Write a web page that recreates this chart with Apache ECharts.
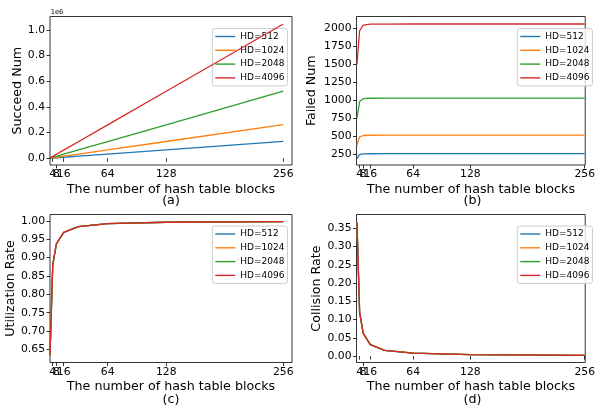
<!DOCTYPE html>
<html>
<head>
<meta charset="utf-8">
<script src="https://cdn.jsdelivr.net/npm/echarts@6/dist/echarts.min.js"></script>
<style>
  html,body{margin:0;padding:0;background:#fff;}
  #chart{width:598px;height:408px;}
</style>
</head>
<body>
<div id="chart"></div>
<script>
// x values (number of hash table blocks)
var blocks = [1, 4, 8, 16, 32, 64, 128, 256];
var hdNames = ['HD=512', 'HD=1024', 'HD=2048', 'HD=4096'];

// (a) succeed num
var succeed512 = [322, 1802, 3840, 7935, 16126, 32510, 65278, 130814];
var succeed1024 = [648, 3604, 7681, 15870, 32253, 65021, 130557, 261629];
var succeed2048 = [1298, 7209, 15362, 31740, 64506, 130042, 261114, 523258];
var succeed4096 = [2596, 14418, 30723, 63479, 129013, 260084, 522228, 1046516];

// (b) failed num
var failed512 = [190, 246, 256, 257, 258, 258, 258, 258];
var failed1024 = [376, 492, 511, 514, 515, 515, 515, 515];
var failed2048 = [750, 983, 1022, 1028, 1030, 1030, 1030, 1030];
var failed4096 = [1500, 1966, 2045, 2057, 2059, 2060, 2060, 2060];

// (c) utilization rate
var util512 = [0.634, 0.880, 0.9375, 0.9686, 0.9843, 0.9921, 0.9961, 0.9980];
var util1024 = [0.633, 0.880, 0.9376, 0.9686, 0.9843, 0.9921, 0.9961, 0.9980];
var util2048 = [0.634, 0.880, 0.9376, 0.9687, 0.9843, 0.9921, 0.9961, 0.9980];
var util4096 = [0.634, 0.880, 0.9376, 0.9686, 0.9843, 0.9921, 0.9961, 0.9980];

// (d) collision rate
var coll512 = [0.366, 0.120, 0.0625, 0.0314, 0.0157, 0.0079, 0.0039, 0.0020];
var coll1024 = [0.367, 0.120, 0.0624, 0.0314, 0.0157, 0.0079, 0.0039, 0.0020];
var coll2048 = [0.366, 0.120, 0.0624, 0.0313, 0.0157, 0.0079, 0.0039, 0.0020];
var coll4096 = [0.366, 0.120, 0.0624, 0.0314, 0.0157, 0.0079, 0.0039, 0.0020];

// tick labels ("8" sits on a second bottom axis, it would be hidden as overlapping "4")
var xTicks = [4, 16, 64, 128, 256];
var xTicksExtra = [8];
var succeedTicks = [0, 200000, 400000, 600000, 800000, 1000000];
var failedTicks = [250, 500, 750, 1000, 1250, 1500, 1750, 2000];
var utilTicks = [0.65, 0.70, 0.75, 0.80, 0.85, 0.90, 0.95, 1.00];
var collTicks = [0, 0.05, 0.10, 0.15, 0.20, 0.25, 0.30, 0.35];

var colors = ['#1f77b4', '#ff7f0e', '#2ca02c', '#d62728'];
var font = 'DejaVu Sans';

function pairs(ys){
	var d = [];
	for (var i = 0; i < blocks.length; i++) d.push([blocks[i], ys[i]]);
	return d;
}

function lineSeries(idx, sets){
	var out = [];
	for (var i = 0; i < sets.length; i++) {
		out.push({
			name: hdNames[i],
			type: 'line',
			xAxisIndex: idx,
			yAxisIndex: idx,
			data: pairs(sets[i]),
			symbol: 'none',
			color: colors[i],
			lineStyle: {width: 1.3, color: colors[i]},
			z: 2 + i
		});
	}
	return out;
}

function xAxisOf(idx, min, max, ticks, withName){
	return {
		type: 'value', gridIndex: idx, min: min, max: max, position: 'bottom', offset: 0,
		name: withName ? 'The number of hash table blocks' : '', nameLocation: 'middle', nameGap: 18,
		nameTextStyle: {fontFamily: font, fontSize: 12.7, color: '#000'},
		axisLine: {show: false},
		splitLine: {show: false},
		axisTick: {show: true, interval: 0, length: 3.5, lineStyle: {color: '#000', width: 0.8}, customValues: ticks},
		axisLabel: {fontFamily: font, fontSize: 10.8, color: '#000', margin: 4, interval: 0,
			showMinLabel: true, showMaxLabel: true, hideOverlap: false, customValues: ticks}
	};
}

function yAxisOf(idx, min, max, name, gap, ticks, fmt){
	return {
		type: 'value', gridIndex: idx, min: min, max: max,
		name: name, nameLocation: 'middle', nameGap: gap,
		nameTextStyle: {fontFamily: font, fontSize: 12.7, color: '#000'},
		axisLine: {show: false},
		splitLine: {show: false},
		axisTick: {show: true, length: 3.5, lineStyle: {color: '#000', width: 0.8}, customValues: ticks},
		axisLabel: {fontFamily: font, fontSize: 10.8, color: '#000', margin: 5, customValues: ticks, formatter: fmt,
			showMinLabel: true, showMaxLabel: true}
	};
}

function legendAt(left, top){
	var items = [];
	for (var i = 0; i < hdNames.length; i++) {
		items.push({name: hdNames[i], icon: 'rect', itemStyle: {color: colors[i]}});
	}
	return {
		data: items, orient: 'vertical', left: left, top: top,
		itemWidth: 20, itemHeight: 1.4, itemGap: 4.8, itemTextGap: 6.5,
		padding: [3.5, 3, 3.5, 3],
		backgroundColor: 'rgba(255,255,255,0.8)',
		borderColor: '#cccccc', borderWidth: 1, borderRadius: 2.5,
		textStyle: {fontFamily: font, fontSize: 9, color: '#000', lineHeight: 9},
		selectedMode: false
	};
}

function label(x, y, t, size){
	return {type: 'text', x: x, y: y, style: {text: t, fontFamily: font, fontSize: size, fill: '#000', align: 'center', verticalAlign: 'middle'}};
}

var gridStyle = {show: true, borderColor: '#000', borderWidth: 0.8};

var chart = echarts.init(document.getElementById('chart'));
var option = {
	animation: false,
	grid: [
		Object.assign({left: 50, top: 16.5, width: 242, height: 148.5}, gridStyle),
		Object.assign({left: 356.5, top: 16.5, width: 232, height: 148.5}, gridStyle),
		Object.assign({left: 50, top: 214.5, width: 242, height: 148}, gridStyle),
		Object.assign({left: 356.5, top: 214.5, width: 232, height: 148}, gridStyle)
	],
	xAxis: [
		xAxisOf(0, 1, 265.5, xTicks, true),
		xAxisOf(1, 0.5, 256.6, xTicks, true),
		xAxisOf(2, 1, 265.5, xTicks, true),
		xAxisOf(3, 0.5, 256.6, xTicks, true),
		xAxisOf(0, 1, 265.5, xTicksExtra, false),
		xAxisOf(1, 0.5, 256.6, xTicksExtra, false),
		xAxisOf(2, 1, 265.5, xTicksExtra, false),
		xAxisOf(3, 0.5, 256.6, xTicksExtra, false)
	],
	yAxis: [
		yAxisOf(0, -52600, 1105000, 'Succeed Num', 25.5, succeedTicks, function(v){ return (v / 1e6).toFixed(1); }),
		yAxisOf(1, 101, 2164, 'Failed Num', 38, failedTicks, function(v){ return String(Math.round(v)); }),
		yAxisOf(2, 0.6145, 1.0172, 'Utilization Rate', 32.5, utilTicks, function(v){ return v.toFixed(2); }),
		yAxisOf(3, -0.0175, 0.3876, 'Collision Rate', 33.8, collTicks, function(v){ return v.toFixed(2); })
	],
	legend: [
		legendAt(212.3, 28.5),
		legendAt(517.3, 28.5),
		legendAt(212.3, 226),
		legendAt(517.3, 226)
	],
	graphic: [
		{type: 'text', x: 50.7, y: 12.7, style: {text: '1e6', fontFamily: font, fontSize: 6.7, fill: '#000', align: 'left', verticalAlign: 'middle'}},
		label(171, 200.5, '(a)', 12.7),
		label(472.5, 201, '(b)', 12.7),
		label(171, 399.3, '(c)', 12.7),
		label(472.5, 399.8, '(d)', 12.7)
	],
	series: [].concat(
		lineSeries(0, [succeed512, succeed1024, succeed2048, succeed4096]),
		lineSeries(1, [failed512, failed1024, failed2048, failed4096]),
		lineSeries(2, [util512, util1024, util2048, util4096]),
		lineSeries(3, [coll512, coll1024, coll2048, coll4096])
	)
};
chart.setOption(option);
</script>
</body>
</html>
